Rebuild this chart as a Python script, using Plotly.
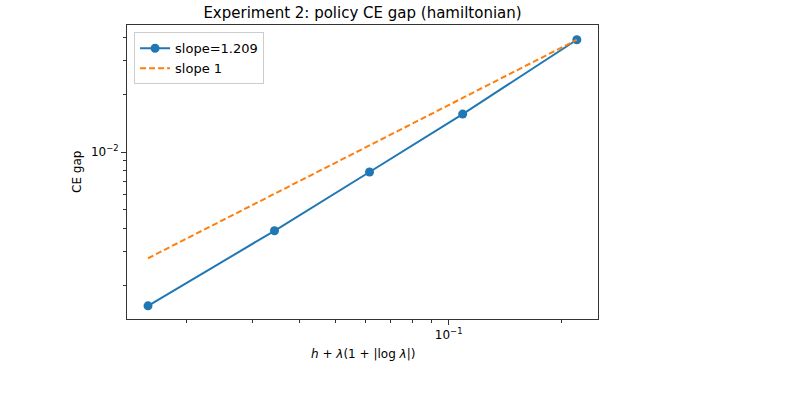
import plotly.graph_objects as go
import numpy as np

# Data
x_vals = [0.01577, 0.0343, 0.0615, 0.1090, 0.2198]
ce_gap = [0.001566, 0.00387, 0.00786, 0.0158, 0.0387]
ref_x = [0.01577, 0.2198]
ref_y = [0.00278, 0.0387]
fit_label = "slope=1.209"
ref_label = "slope 1"

x_major = [0.1]
x_major_text = ["10<sup>\u22121</sup>"]
x_minor = [0.02, 0.03, 0.04, 0.05, 0.06, 0.07, 0.08, 0.09, 0.2]
y_major = [0.01]
y_major_text = ["10<sup>\u22122</sup>"]
y_minor = [0.002, 0.003, 0.004, 0.005, 0.006, 0.007, 0.008, 0.009, 0.02, 0.03, 0.04]

BLUE = "#1f77b4"
ORANGE = "#ff7f0e"
FONT = "DejaVu Sans"

fig = go.Figure()
fig.add_trace(go.Scatter(
    x=x_vals, y=ce_gap, mode="lines+markers", name=fit_label,
    line=dict(color=BLUE, width=2), marker=dict(color=BLUE, size=9),
))
fig.add_trace(go.Scatter(
    x=ref_x, y=ref_y, mode="lines", name=ref_label,
    line=dict(color=ORANGE, width=2, dash="6px,3px"),
))

axis_common = dict(
    type="log", showgrid=False, zeroline=False, showline=True, mirror=True,
    linecolor="#333333", linewidth=1, ticks="outside", ticklen=5, tickwidth=1,
    tickcolor="#333333", tickfont=dict(family=FONT, size=12, color="black"),
)

fig.update_xaxes(
    **axis_common,
    range=[np.log10(0.01386), np.log10(0.2503)],
    tickmode="array", tickvals=x_major, ticktext=x_major_text,
    minor=dict(tickmode="array", tickvals=x_minor, ticks="outside", ticklen=3,
               tickwidth=1, tickcolor="#333333"),
)
fig.update_yaxes(
    **axis_common,
    range=[-2.874, -1.335],
    tickmode="array", tickvals=y_major, ticktext=y_major_text,
    minor=dict(tickmode="array", tickvals=y_minor, ticks="outside", ticklen=3,
               tickwidth=1, tickcolor="#333333"),
)

fig.update_layout(
    width=803, height=402,
    margin=dict(l=127, r=205, t=25, b=83),
    paper_bgcolor="white", plot_bgcolor="white",
    font=dict(family=FONT, size=12, color="black"),
    title=dict(text="Experiment 2: policy CE gap (hamiltonian)",
               x=0.5, xref="paper", y=1 - 13 / 402, yref="container",
               xanchor="center", yanchor="middle",
               font=dict(family=FONT, size=15, color="black")),
    legend=dict(x=0.015, y=0.975, xanchor="left", yanchor="top",
                bgcolor="rgba(255,255,255,0.8)", bordercolor="#cccccc",
                borderwidth=1, font=dict(family=FONT, size=13),
                itemwidth=30, tracegroupgap=0),
    showlegend=True,
    annotations=[
        dict(text="CE gap", x=0, y=0.5, xref="paper", yref="paper",
             xanchor="center", yanchor="middle", xshift=-50, textangle=-90,
             showarrow=False, font=dict(family=FONT, size=12)),
        dict(text="<i>h</i> + <i>\u03bb</i>(1 + |log <i>\u03bb</i>|)", x=0.5, y=0,
             xref="paper", yref="paper", xanchor="center", yanchor="middle",
             yshift=-35, showarrow=False, font=dict(family=FONT, size=12)),
    ],
)

fig.write_html("out.html")
